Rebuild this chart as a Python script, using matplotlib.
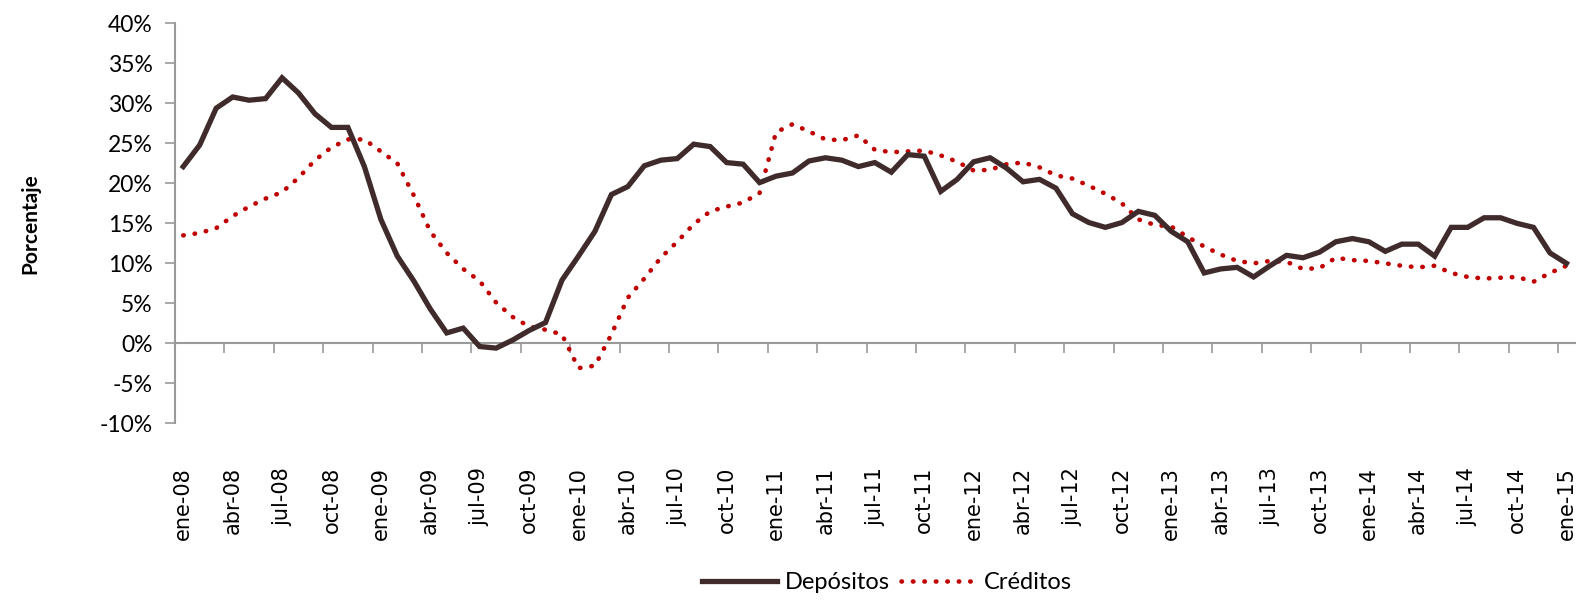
import matplotlib
matplotlib.use('Agg')
import matplotlib.pyplot as plt
import numpy as np

# --- datos (variación anual, %) ---
years = ['08', '09', '10', '11', '12', '13', '14', '15']
months = ['ene', 'feb', 'mar', 'abr', 'may', 'jun', 'jul', 'ago', 'sep', 'oct', 'nov', 'dic']
periods = [f'{m}-{y}' for y in years for m in months][:85]

depositos = [22.1, 24.8, 29.4, 30.8, 30.4, 30.6, 33.2, 31.3, 28.7, 27.0, 27.0, 22.1,
             15.5, 10.9, 7.8, 4.3, 1.3, 1.9, -0.4, -0.6, 0.4, 1.6, 2.6, 7.9,
             10.9, 14.0, 18.6, 19.6, 22.2, 22.9, 23.1, 24.9, 24.6, 22.6, 22.4, 20.1,
             20.9, 21.3, 22.8, 23.2, 22.9, 22.1, 22.6, 21.4, 23.6, 23.4, 19.0, 20.5,
             22.7, 23.2, 21.9, 20.2, 20.5, 19.4, 16.2, 15.1, 14.5, 15.1, 16.5, 16.0,
             14.0, 12.7, 8.8, 9.3, 9.5, 8.3, 9.7, 11.0, 10.7, 11.4, 12.7, 13.1,
             12.7, 11.5, 12.4, 12.4, 10.9, 14.5, 14.5, 15.7, 15.7, 15.0, 14.5, 11.3,
             10.0]

creditos = [13.5, 13.8, 14.4, 15.9, 17.1, 18.1, 18.9, 20.7, 22.9, 24.5, 25.5, 25.5,
            24.0, 22.5, 18.5, 14.0, 11.3, 9.3, 7.8, 5.1, 3.3, 2.1, 1.7, 1.1,
            -3.1, -2.8, 1.1, 5.7, 8.1, 10.7, 12.7, 14.9, 16.5, 17.1, 17.6, 18.8,
            26.4, 27.4, 26.5, 25.5, 25.4, 26.0, 24.2, 23.9, 24.0, 24.1, 23.5, 22.7,
            21.6, 21.7, 22.4, 22.6, 22.0, 21.0, 20.6, 19.7, 18.7, 17.5, 15.5, 14.8,
            14.6, 13.3, 12.1, 11.1, 10.3, 10.0, 10.3, 10.2, 9.3, 9.4, 10.7, 10.4,
            10.3, 10.0, 9.7, 9.5, 9.7, 8.8, 8.3, 8.1, 8.2, 8.3, 7.7, 8.8,
            9.7]

yticks = [-10, -5, 0, 5, 10, 15, 20, 25, 30, 35, 40]

# --- estilo ---
plt.rcParams['font.family'] = ['Lato', 'DejaVu Sans']
grey = '#9A9A9A'

fig = plt.figure(figsize=(15.81, 6.01), dpi=100)
ax = fig.add_axes([0.1107, 0.2957, 0.8853, 0.6653])

x = np.arange(len(periods))
ax.plot(x, depositos, color='#3F2B2B', lw=3.8, solid_joinstyle='miter',
        label='Depósitos', zorder=3)
ax.plot(x, creditos, color='#C00000', lw=3.3, ls=(0, (0.1, 2.4)),
        dash_capstyle='round', label='Créditos', zorder=2)

ax.set_xlim(-0.5, 84.5)
ax.set_ylim(-10, 40)

# eje y
ax.set_yticks(yticks)
ax.set_yticklabels([f'{v}%' for v in yticks], fontsize=16.5)
ax.tick_params(axis='y', direction='out', length=7, width=1.2, color=grey, pad=9)

# eje x en 0%, etiquetas abajo
ax.spines['bottom'].set_position(('data', 0))
ax.spines['bottom'].set_color(grey)
ax.spines['bottom'].set_linewidth(1.5)
ax.spines['left'].set_color(grey)
ax.spines['left'].set_linewidth(1.5)
ax.spines['top'].set_visible(False)
ax.spines['right'].set_visible(False)

ax.set_xticks(x[::3])
ax.set_xticklabels(periods[::3], rotation=90, fontsize=15,
                   family='DejaVu Sans', va='top')
ax.set_xticks(np.arange(2.5, 84, 3), minor=True)
ax.tick_params(axis='x', which='major', length=0, pad=89)
ax.tick_params(axis='x', which='minor', direction='out', length=7, width=1.2, color=grey)

fig.text(0.019, 0.628, 'Porcentaje', rotation=90, fontsize=15, fontweight='bold',
         ha='center', va='center')

fig.legend(loc='center', bbox_to_anchor=(0.561, 0.03), ncol=2, frameon=False,
           fontsize=17, handlelength=3.2, columnspacing=0.5, handletextpad=0.3)

plt.savefig('out.png', dpi=100)
